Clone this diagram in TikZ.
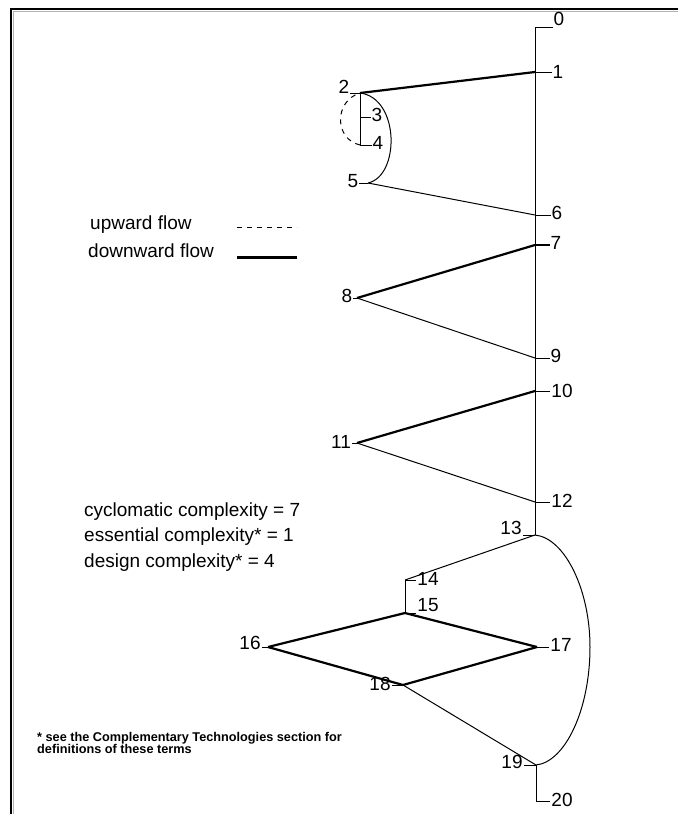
\documentclass[tikz,border=0pt]{standalone}
\usepackage{fontspec}
\setmainfont{Liberation Sans}
\usetikzlibrary{positioning, calc}

\begin{document}
\begin{tikzpicture}[
 x=1pt, y=-1pt,
 lbl/.style={inner sep=1pt, font=\fontsize{19}{21}\selectfont},
 txt/.style={inner sep=0pt, anchor=west, font=\fontsize{19}{21}\selectfont},
 note/.style={inner sep=0pt, anchor=west, align=left,
   font=\fontsize{12.7}{12}\selectfont\bfseries},
 flow/.style={line width=1pt},
 down_edge/.style={line width=2.2pt},
 up_edge/.style={line width=1pt, dash pattern=on 5pt off 5pt}
]
\useasboundingbox (0,0) rectangle (678,814);

% frame
\draw[gray!60, line width=1pt] (13.5,814) -- (13.5,11.5) -- (678,11.5);
\draw[line width=2pt] (11,814) -- (11,9) -- (678,9);

% flowgraph nodes
\coordinate (n0) at (535,27);
\coordinate (n1) at (535,72);
\coordinate (n2) at (360,93);
\coordinate (n3) at (360,117);
\coordinate (n4) at (360,145);
\coordinate (n5) at (368,183);
\coordinate (n6) at (535,215);
\coordinate (n7) at (535,245);
\coordinate (n8) at (357,298);
\coordinate (n9) at (535,358);
\coordinate (n10) at (535,391);
\coordinate (n11) at (357,443);
\coordinate (n12) at (535,502);
\coordinate (n13) at (535,535);
\coordinate (n14) at (405,580);
\coordinate (n15) at (405,613);
\coordinate (n16) at (268,647);
\coordinate (n17) at (537,647);
\coordinate (n18) at (403,685);
\coordinate (n19) at (536,765);
\coordinate (n20) at (536,801);
\coordinate (bulge) at (590,647);

% labels
\node[lbl] (l0) at (559,19) {0};
\node[lbl] (l1) at (558,72) {1};
\node[lbl] (l2) at (344,87) {2};
\node[lbl] (l3) at (377,115) {3};
\node[lbl] (l4) at (378,143) {4};
\node[lbl] (l5) at (353,181) {5};
\node[lbl] (l6) at (557,213) {6};
\node[lbl] (l7) at (556,243) {7};
\node[lbl] (l8) at (347,296) {8};
\node[lbl] (l9) at (556,356) {9};
\node[lbl] (l10) at (562,391) {10};
\node[lbl] (l11) at (341,442) {11};
\node[lbl] (l12) at (562,501) {12};
\node[lbl] (l13) at (511,528) {13};
\node[lbl] (l14) at (428,579) {14};
\node[lbl] (l15) at (428,605) {15};
\node[lbl] (l16) at (250,643) {16};
\node[lbl] (l17) at (561,645) {17};
\node[lbl] (l18) at (380,684) {18};
\node[lbl] (l19) at (512,762) {19};
\node[lbl] (l20) at (562,800) {20};

% ticks
\foreach \k in {0,1,3,4,6,9,10,12,14,15,17,20}
  \draw[flow] (n\k) -- (n\k -| l\k.west);
\foreach \k in {2,5,8,11,13,16,18,19}
  \draw[flow] (n\k) -- (n\k -| l\k.east);
\draw[down_edge] (n7) -- (n7 -| l7.west);

% straight runs
\draw[flow] (n0) -- (n13);
\draw[flow] (n2) -- (n4);
\draw[flow] (n14) -- (n15);
\draw[flow] (n19) -- (n20);

% edges
\draw[down_edge] (n1) -- (n2);
\draw[up_edge] (n4) .. controls +(-26,-6) and +(-26,8) .. (n2);
\draw[flow] (n2) .. controls +(40,5) and +(32,-7) .. (n5);
\draw[flow] (n5) -- (n6);
\draw[down_edge] (n7) -- (n8);
\draw[flow] (n8) -- (n9);
\draw[down_edge] (n10) -- (n11);
\draw[flow] (n11) -- (n12);
\draw[flow] (n13) -- (n14);
\draw[down_edge] (n15) -- (n16);
\draw[down_edge] (n15) -- (n17);
\draw[down_edge] (n16) -- (n18);
\draw[down_edge] (n17) -- (n18);
\draw[flow] (n18) -- (n19);
\draw[flow] (n13) .. controls (565,538) and (590,590) .. (bulge)
  .. controls (590,710) and (565,762) .. (n19);

% legend
\node[txt] (up) at (90,225) {upward flow};
\node[txt] (down) at (88,251) {downward flow};
\coordinate (upa) at (237,227);
\coordinate (upb) at (297,227);
\coordinate (downa) at (237,257);
\coordinate (downb) at (297,257);
\draw[up_edge] (upa) -- (upb);
\draw[line width=3pt] (downa) -- (downb);

% complexity figures
\node[txt] (cyc) at (84,512) {cyclomatic complexity = 7};
\node[txt] (ess) at (84,537) {essential complexity* = 1};
\node[txt] (des) at (84,563) {design complexity* = 4};

\node[note] (foot) at (37,743) {* see the Complementary Technologies section for\\definitions of these terms};
\end{tikzpicture}
\end{document}
